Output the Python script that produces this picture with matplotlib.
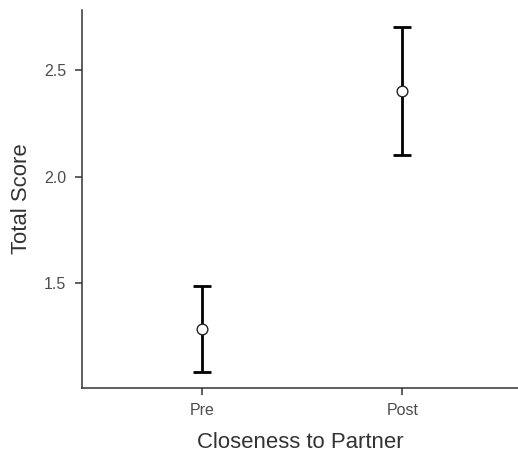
import matplotlib
matplotlib.use("Agg")
import matplotlib.pyplot as plt

plt.rcParams['font.family'] = ['Liberation Sans', 'DejaVu Sans']

categories = ["Pre", "Post"]
means = [1.285, 2.403]
lower = [1.086, 2.102]
upper = [1.487, 2.703]
yticks = [1.5, 2.0, 2.5]
ytick_labels = ["1.5", "2.0", "2.5"]

W, H = 518, 457
fig = plt.figure(figsize=(W / 100, H / 100), dpi=100)
ax = fig.add_axes([81.7 / W, 1 - 388 / H, (W - 81.7) / W, (388 - 10) / H])

x = list(range(1, len(categories) + 1))
yerr = [[m - l for m, l in zip(means, lower)], [u - m for m, u in zip(means, upper)]]
ax.errorbar(x, means, yerr=yerr, fmt='none', ecolor='black', elinewidth=2.0,
            capsize=6.8, capthick=2.0, zorder=2)
ax.plot(x, means, 'o', markersize=7.7, markerfacecolor='white',
        markeredgecolor='#222222', markeredgewidth=1.0, zorder=3)

ax.set_xlim(0.4, 2.577)
ax.set_ylim(1.009, 2.781)
ax.set_xticks(x)
ax.set_xticklabels(categories)
ax.set_yticks(yticks)
ax.set_yticklabels(ytick_labels)

for s in ['top', 'right']:
    ax.spines[s].set_visible(False)
for s in ['left', 'bottom']:
    ax.spines[s].set_linewidth(1.1)
    ax.spines[s].set_color('#333333')

ax.tick_params(axis='both', length=5, width=1.1, color='#333333',
               labelsize=11.5, labelcolor='#4d4d4d', pad=6)

ax.set_xlabel("Closeness to Partner", fontsize=15.9, color='#333333', labelpad=10)
ax.set_ylabel("Total Score", fontsize=15.9, color='#333333', labelpad=9)

fig.savefig("out.png", dpi=100)
